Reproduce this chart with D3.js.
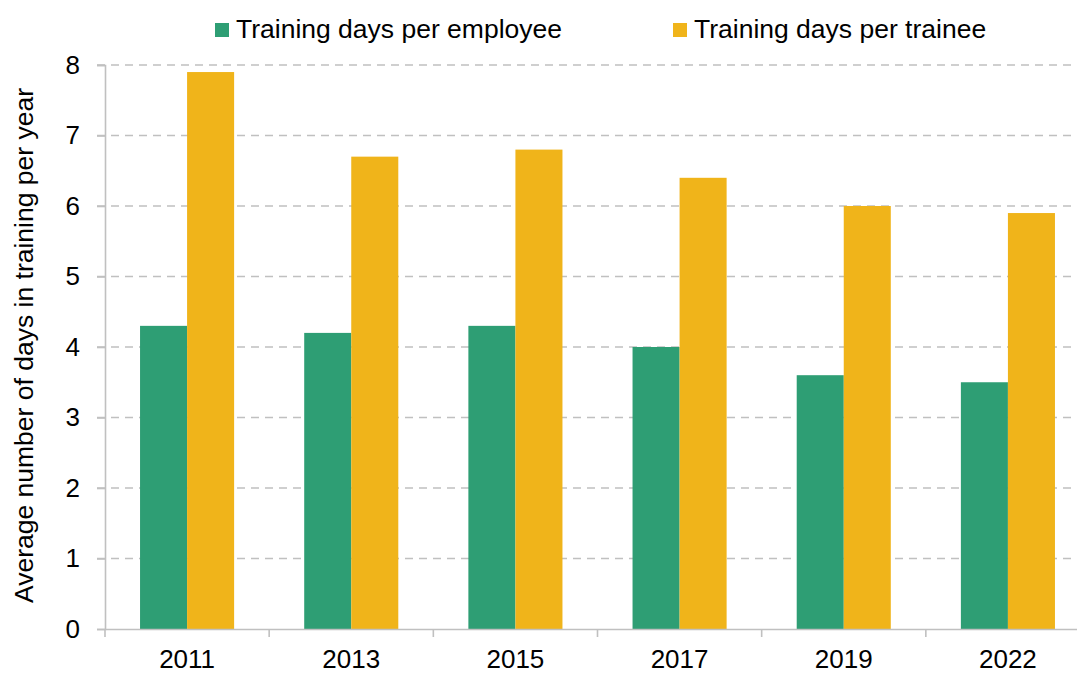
<!DOCTYPE html>
<html><head><meta charset="utf-8">
<script src="https://cdn.jsdelivr.net/npm/d3@7"></script>
<style>body{margin:0;background:#fff;} svg{display:block;} text{font-family:"Liberation Sans",Arial,sans-serif;fill:#000;}</style>
</head><body><svg id="c" width="1077" height="673"></svg>
<script>
const years = ["2011","2013","2015","2017","2019","2022"];
const seriesNames = ["Training days per employee","Training days per trainee"];
const perEmployee = [4.3,4.2,4.3,4.0,3.6,3.5];
const perTrainee = [7.9,6.7,6.8,6.4,6.0,5.9];
const yTicks = [0,1,2,3,4,5,6,7,8];
const colors = ["#2e9e74","#f0b41a"];

const svg = d3.select("#c");
const m = {l:105, r:1090, t:65, b:629};
const x = d3.scaleBand().domain(years).range([m.l, m.r]).padding(0);
const y = d3.scaleLinear().domain([0,8]).range([m.b, m.t]);
const xs = d3.scaleBand().domain([0,1]).range([0, x.bandwidth()]).paddingOuter(0.745).paddingInner(0);

// gridlines
svg.append("g").selectAll("line").data(yTicks.filter(d=>d>0)).join("line")
  .attr("x1", m.l-8).attr("x2", m.r).attr("y1", d=>y(d)).attr("y2", d=>y(d))
  .attr("stroke","#c0c0c0").attr("stroke-width",1.6).attr("stroke-dasharray","8,6");

// bars
const data = [perEmployee, perTrainee];
years.forEach((yr,i)=>{
  [0,1].forEach(s=>{
    svg.append("rect").attr("x", x(yr)+xs(s)).attr("width", xs.bandwidth())
      .attr("y", y(data[s][i])).attr("height", y(0)-y(data[s][i])).attr("fill", colors[s]);
  });
});

// y axis
const ya = svg.append("g").attr("transform",`translate(${m.l},0)`).call(d3.axisLeft(y).tickValues(yTicks).tickSize(8).tickPadding(17));
ya.select(".domain").attr("stroke","#c0c0c0").attr("stroke-width",1.6);
ya.selectAll(".tick line").attr("stroke","#c0c0c0").attr("stroke-width",1.6);
ya.selectAll(".tick text").attr("font-size",26).attr("font-family","Liberation Sans, Arial").attr("fill","#000");

// x axis
const xa = svg.append("g").attr("transform",`translate(0,${m.b})`).call(d3.axisBottom(x).tickSize(0).tickPadding(21));
xa.select(".domain").attr("stroke","#c0c0c0").attr("stroke-width",1.6);
xa.selectAll(".tick text").attr("font-size",26).attr("font-family","Liberation Sans, Arial").attr("fill","#000");
// boundary ticks
const bounds = years.map(d=>x(d)).concat([m.r]);
svg.append("g").selectAll("line").data(bounds).join("line")
  .attr("x1",d=>d).attr("x2",d=>d).attr("y1",m.b).attr("y2",m.b+8)
  .attr("stroke","#c0c0c0").attr("stroke-width",1.6);

// y title
svg.append("text").attr("transform",`translate(33,${(87+604)/2}) rotate(-90)`)
  .attr("text-anchor","middle").attr("font-size",26.5).text("Average number of days in training per year");

// legend
const lx = [215, 673];
seriesNames.forEach((n,i)=>{
  svg.append("rect").attr("x",lx[i]).attr("y",23).attr("width",14).attr("height",14).attr("fill",colors[i]);
  svg.append("text").attr("x",lx[i]+21).attr("y",38).attr("font-size",26.5).text(n);
});
</script></body></html>
